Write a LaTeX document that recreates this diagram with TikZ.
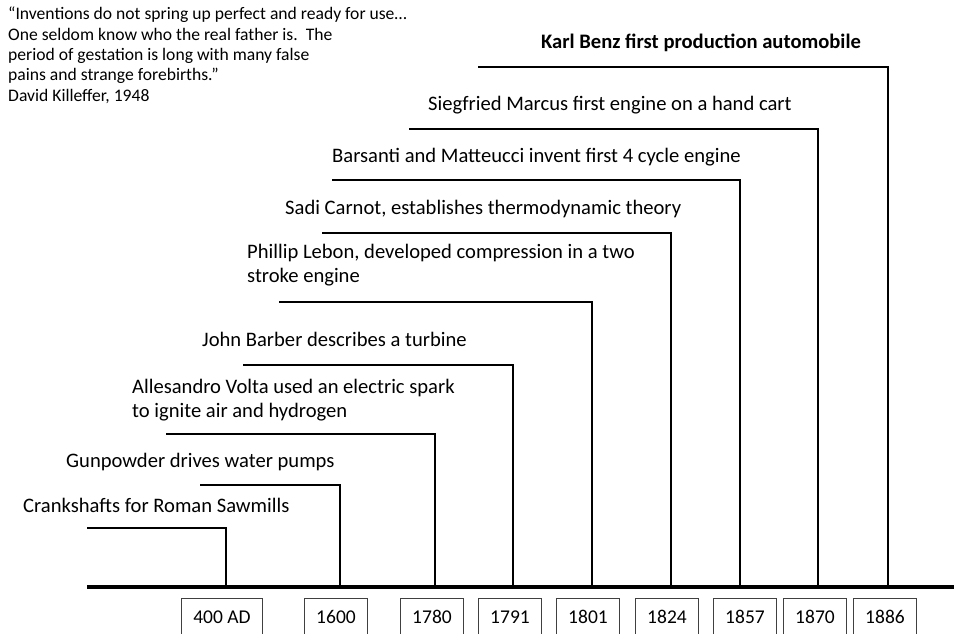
\documentclass[tikz,border=0pt]{standalone}
\usepackage{fontspec}
\setmainfont{Carlito}
\usetikzlibrary{positioning}

\begin{document}
\begin{tikzpicture}[x=1pt, y=-1pt,
  every node/.style={inner sep=0pt, anchor=west},
  quotetext/.style={
    font=\fontsize{17.6}{20.3}\selectfont,
    align=left, anchor=north west
  },
  eventlabel/.style={
    font=\fontsize{20.6}{23.5}\selectfont,
    align=left
  },
  eventline/.style={line width=1.8pt, line join=miter},
  yearbox/.style={
    draw=black!75, line width=0.8pt,
    anchor=north,
    font=\fontsize{19.5}{21}\selectfont,
    minimum width=63pt, minimum height=38pt,
    inner xsep=12pt
  }
]
  \clip (0,0) rectangle (954,633);

  % Citation
  \node[quotetext] (quote) at (8,7) {
    ``Inventions do not spring up perfect and ready for use\ldots\\
    One seldom know who the real father is.\ \ The\\
    period of gestation is long with many false\\
    pains and strange forebirths.''\\
    David Killeffer, 1948
  };

  % Axe du temps
  \coordinate (axisL) at (87,587);
  \coordinate (axisR) at (954,587);
  \draw[line width=4pt] (axisL) -- (axisR);

  % Evenements
  \node[eventlabel] (crank) at (23,505) {Crankshafts for Roman Sawmills};
  \coordinate (crankS) at (87,528);
  \coordinate (crankT) at (226,528);
  \draw[eventline] (crankS) -- (crankT) -- (crankT |- axisL);

  \node[eventlabel] (powder) at (66,462) {Gunpowder drives water pumps};
  \coordinate (powderS) at (200,485);
  \coordinate (powderT) at (340,485);
  \draw[eventline] (powderS) -- (powderT) -- (powderT |- axisL);

  \node[eventlabel] (volta) at (132,400) {Allesandro Volta used an electric spark\\
    to ignite air and hydrogen};
  \coordinate (voltaS) at (166,434);
  \coordinate (voltaT) at (435,434);
  \draw[eventline] (voltaS) -- (voltaT) -- (voltaT |- axisL);

  \node[eventlabel] (barber) at (202,339) {John Barber describes a turbine};
  \coordinate (barberS) at (243,365);
  \coordinate (barberT) at (513,365);
  \draw[eventline] (barberS) -- (barberT) -- (barberT |- axisL);

  \node[eventlabel] (lebon) at (247,265) {Phillip Lebon, developed compression in a two\\
    stroke engine};
  \coordinate (lebonS) at (279,302);
  \coordinate (lebonT) at (592,302);
  \draw[eventline] (lebonS) -- (lebonT) -- (lebonT |- axisL);

  \node[eventlabel] (carnot) at (285,209) {Sadi Carnot, establishes thermodynamic theory};
  \coordinate (carnotS) at (322,233);
  \coordinate (carnotT) at (671,233);
  \draw[eventline] (carnotS) -- (carnotT) -- (carnotT |- axisL);

  \node[eventlabel] (barsanti) at (332,157) {Barsanti and Matteucci invent first 4 cycle engine};
  \coordinate (barsantiS) at (332,180);
  \coordinate (barsantiT) at (740,180);
  \draw[eventline] (barsantiS) -- (barsantiT) -- (barsantiT |- axisL);

  \node[eventlabel] (marcus) at (428,105) {Siegfried Marcus first engine on a hand cart};
  \coordinate (marcusS) at (409,129);
  \coordinate (marcusT) at (818,129);
  \draw[eventline] (marcusS) -- (marcusT) -- (marcusT |- axisL);

  \node[eventlabel, font=\fontsize{20.6}{23.5}\selectfont\bfseries] (benz) at (541,43) {Karl Benz first production automobile};
  \coordinate (benzS) at (478,67);
  \coordinate (benzT) at (888,67);
  \draw[eventline] (benzS) -- (benzT) -- (benzT |- axisL);

  % Annees
  \node[yearbox] (y400) at (222,598) {400 AD};
  \node[yearbox] (y1600) at (336,598) {1600};
  \node[yearbox] (y1780) at (432,598) {1780};
  \node[yearbox] (y1791) at (510,598) {1791};
  \node[yearbox] (y1801) at (588,598) {1801};
  \node[yearbox] (y1824) at (667,598) {1824};
  \node[yearbox] (y1857) at (745,598) {1857};
  \node[yearbox] (y1870) at (815,598) {1870};
  \node[yearbox] (y1886) at (885,598) {1886};
\end{tikzpicture}
\end{document}
